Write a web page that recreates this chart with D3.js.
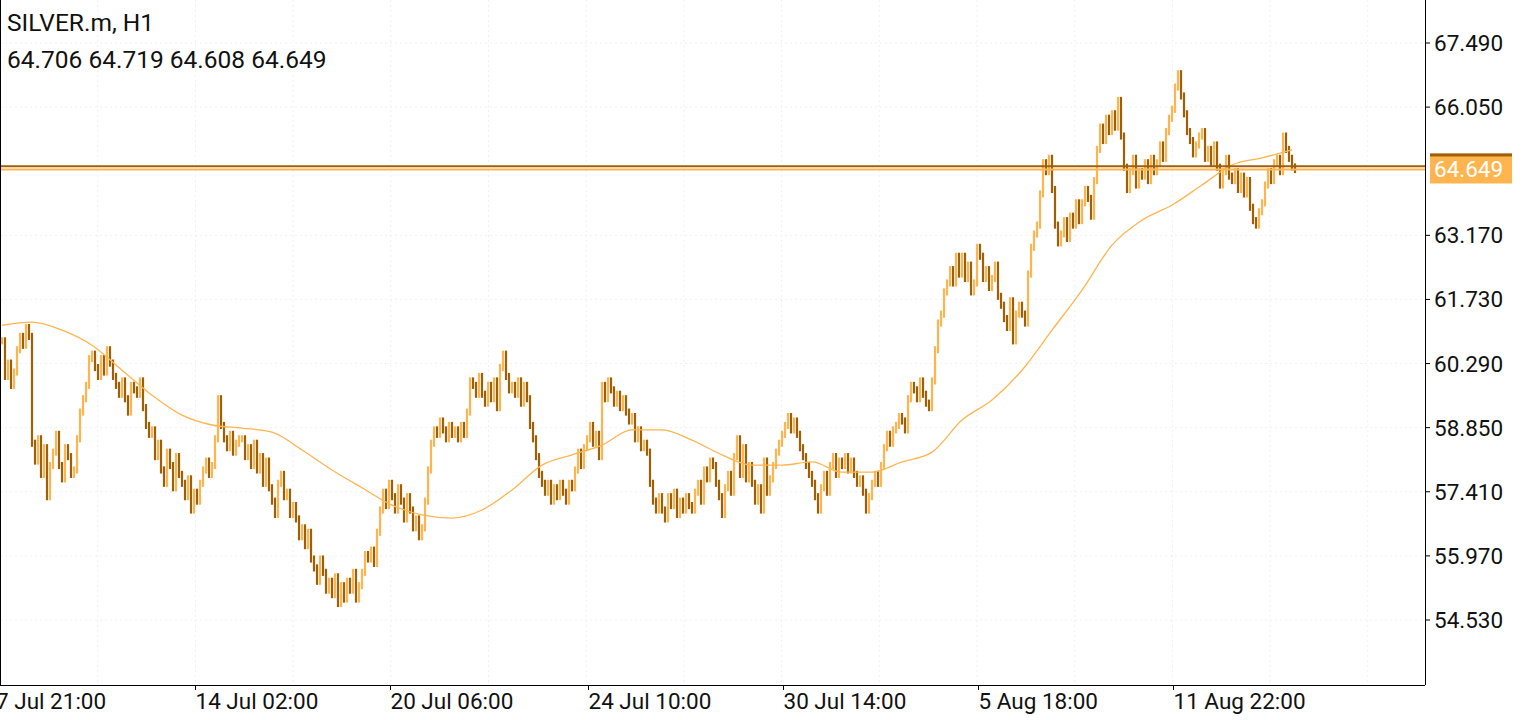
<!DOCTYPE html>
<html><head><meta charset="utf-8">
<script src="https://cdn.jsdelivr.net/npm/d3@7"></script>
<style>body{margin:0;background:#fff;}svg{display:block;font-family:Roboto,sans-serif;}</style>
</head><body><svg id="c" width="1539" height="720"></svg>
<script>
const closes=[
60.8,60.0,60.3,59.8,60.1,60.6,60.9,60.7,61.1,60.9,
58.5,58.1,58.6,57.8,58.4,57.3,58.0,58.3,58.7,58.0,
57.7,58.4,58.2,57.8,57.9,58.6,59.2,59.5,59.8,60.4,
60.5,60.2,60.0,60.4,60.1,60.6,60.3,60.0,59.8,59.6,
59.9,59.5,59.2,59.8,59.7,59.6,59.9,59.3,58.9,58.7,
58.8,58.2,58.5,57.9,57.6,58.3,58.0,57.5,58.2,57.8,
57.6,57.3,57.7,57.0,57.4,57.2,57.6,57.9,58.1,57.8,
58.0,58.6,59.5,58.9,58.6,58.4,58.7,58.3,58.5,58.6,
58.6,58.2,58.4,58.0,58.5,57.9,58.2,57.6,58.1,57.5,
57.2,56.9,57.6,57.8,57.3,57.4,56.9,57.1,56.8,56.4,
56.6,56.2,56.5,55.9,55.7,55.4,55.9,55.6,55.2,55.4,
55.1,55.5,54.9,55.3,55.0,55.4,55.2,55.6,55.0,55.3,
55.6,56.0,55.9,56.1,55.8,56.5,57.0,57.4,57.1,57.6,
57.3,57.0,57.5,57.2,56.8,57.3,57.0,56.6,56.8,56.4,
56.6,57.2,57.9,58.5,58.8,58.7,59.0,58.8,58.6,58.9,
58.7,58.8,58.6,58.9,58.7,59.2,59.9,59.8,59.6,60.0,
59.6,59.4,59.8,59.5,59.9,59.3,60.2,60.5,60.0,59.7,
59.8,59.6,59.9,59.4,59.8,59.5,58.9,58.6,58.2,57.8,
57.6,57.4,57.6,57.2,57.5,57.3,57.6,57.4,57.2,57.6,
57.5,57.9,58.3,58.0,58.4,58.6,58.9,58.5,58.7,58.2,
59.8,59.5,59.9,59.7,59.4,59.6,59.3,59.5,59.2,59.0,
59.1,58.6,58.8,58.4,58.5,58.3,57.6,57.2,57.0,57.3,
57.0,56.8,57.3,57.1,57.4,56.9,57.2,57.0,57.3,57.1,
57.0,57.4,57.6,57.2,57.9,57.7,58.1,58.0,57.6,57.3,
56.9,57.5,57.8,57.4,58.2,58.6,57.8,58.4,57.7,58.0,
57.6,57.2,57.5,57.0,58.1,57.4,57.7,58.0,58.3,58.5,
58.7,58.9,59.1,58.8,59.0,58.7,58.4,58.2,58.0,57.8,
57.6,57.3,57.0,57.5,57.8,57.4,58.0,58.2,57.8,58.1,
58.0,58.2,57.9,58.1,57.8,57.6,57.7,57.4,57.0,57.3,
57.6,57.8,57.6,58.0,58.4,58.7,58.5,58.8,58.9,59.1,
59.0,58.8,59.5,59.8,59.7,59.5,59.9,59.6,59.4,59.3,
59.9,60.6,61.2,61.4,61.9,62.1,62.4,62.1,62.7,62.3,
62.7,62.2,62.5,61.9,62.1,62.9,62.7,62.2,62.4,62.0,
62.2,62.5,61.8,61.6,61.3,61.1,61.7,60.8,61.4,61.6,
61.4,61.2,62.3,62.9,63.2,63.4,64.1,64.8,64.6,64.9,
64.2,63.4,63.0,63.2,63.5,63.1,63.6,63.4,63.9,63.5,
63.9,64.2,64.0,63.6,64.4,65.1,65.6,65.3,65.8,65.5,
65.9,65.6,66.2,65.4,64.7,64.2,64.6,64.9,64.3,64.6,
64.5,64.8,64.4,64.9,64.6,64.8,65.2,64.9,65.5,65.8,
66.0,66.5,66.8,66.3,65.9,65.5,65.3,65.0,65.2,65.4,
65.5,64.9,65.1,64.8,65.2,64.7,64.3,64.6,64.9,64.5,
64.4,64.6,64.2,64.5,64.1,64.4,63.8,63.5,63.4,63.7,
63.9,64.3,64.6,64.4,64.8,64.9,64.6,65.4,65.1,64.9,64.706,64.649];
const maSample=[61.15,61.22,61.04,60.70,60.14,59.58,59.13,58.91,58.84,58.75,58.35,57.90,57.50,57.11,56.89,56.82,57.00,57.45,58.01,58.24,58.46,58.80,58.80,58.57,58.24,58.01,58.01,58.08,57.85,57.85,58.08,58.30,59.02,59.47,60.14,61.04,61.94,62.95,63.51,63.85,64.30,64.75,64.91,65.09];
const priceTicks=[54.530,55.970,57.410,58.850,60.290,61.730,63.170,66.050,67.490];
const timeLabels=["7 Jul 21:00","14 Jul 02:00","20 Jul 06:00","24 Jul 10:00","30 Jul 14:00","5 Aug 18:00","11 Aug 22:00"];
const timeIdx=[0,65,130,196,261,326,391];
const ask=64.719, bid=64.649;

const svg=d3.select("#c");
const W=1425,H=685;
const x=d3.scaleLinear().domain([0,100]).range([2,302]);
const y=d3.scaleLinear().domain([54.530,67.490]).range([620,43]);
const up="#FFB54F",dn="#A05F05";
const g=svg.append("g").attr("stroke","#f0f0f0").attr("stroke-dasharray","2,3");
priceTicks.forEach(p=>g.append("line").attr("x1",0).attr("x2",W).attr("y1",y(p)).attr("y2",y(p)));
d3.range(0,W,97.7).forEach(v=>g.append("line").attr("x1",v).attr("x2",v).attr("y1",0).attr("y2",H));
const bars=closes.map((c,i)=>{const o=i?closes[i-1]:c;return{i,o,c,h:Math.max(o,c)+0.08,l:Math.min(o,c)-0.08};});
svg.append("g").selectAll("line").data(bars).join("line")
 .attr("x1",d=>x(d.i)).attr("x2",d=>x(d.i)).attr("y1",d=>y(d.h)).attr("y2",d=>y(d.l))
 .attr("stroke",d=>d.c>=d.o?up:dn).attr("stroke-width",2.2);
svg.append("path").datum(maSample).attr("fill","none").attr("stroke","#FFB54F").attr("stroke-width",1.3)
 .attr("d",d3.line().x((d,i)=>x(i*10)).y(d=>y(d)).curve(d3.curveMonotoneX));
svg.append("line").attr("x1",0).attr("x2",W).attr("y1",y(ask)).attr("y2",y(ask)).attr("stroke",dn).attr("stroke-width",2);
svg.append("line").attr("x1",0).attr("x2",W).attr("y1",y(bid)).attr("y2",y(bid)).attr("stroke",up).attr("stroke-width",2);
svg.append("line").attr("x1",0.5).attr("x2",0.5).attr("y1",0).attr("y2",H).attr("stroke","#000");
svg.append("line").attr("x1",W+0.5).attr("x2",W+0.5).attr("y1",0).attr("y2",H).attr("stroke","#000");
svg.append("line").attr("x1",0).attr("x2",W).attr("y1",H+0.5).attr("y2",H+0.5).attr("stroke","#000");
const FS=22.5;
const ya=svg.append("g").attr("font-size",FS).attr("fill","#111");
priceTicks.forEach(p=>{
 ya.append("line").attr("x1",W).attr("x2",W+5).attr("y1",y(p)).attr("y2",y(p)).attr("stroke","#000");
 ya.append("text").attr("x",W+9).attr("y",y(p)+8).text(p.toFixed(3));
});
svg.append("rect").attr("x",W+5).attr("y",y(ask)-13).attr("width",82).attr("height",4).attr("fill",dn);
svg.append("rect").attr("x",W+5).attr("y",y(bid)-13).attr("width",82).attr("height",27).attr("fill",up);
svg.append("text").attr("x",W+9).attr("y",y(bid)+8).attr("font-size",FS).attr("fill","#fff").text(bid.toFixed(3));
timeIdx.forEach((t,k)=>{
 const px=Math.round(x(t))-1.5;
 if(k) svg.append("line").attr("x1",px).attr("x2",px).attr("y1",H).attr("y2",H+5).attr("stroke","#000");
 svg.append("text").attr("x",k?px:-4).attr("y",H+24).attr("font-size",FS).attr("fill","#111").text(timeLabels[k]);
});
svg.append("text").attr("x",7).attr("y",31).attr("font-size",24.5).attr("fill","#111").text("SILVER.m, H1");
svg.append("text").attr("x",7).attr("y",68).attr("font-size",24.5).attr("fill","#111").text("64.706 64.719 64.608 64.649");
</script></body></html>
